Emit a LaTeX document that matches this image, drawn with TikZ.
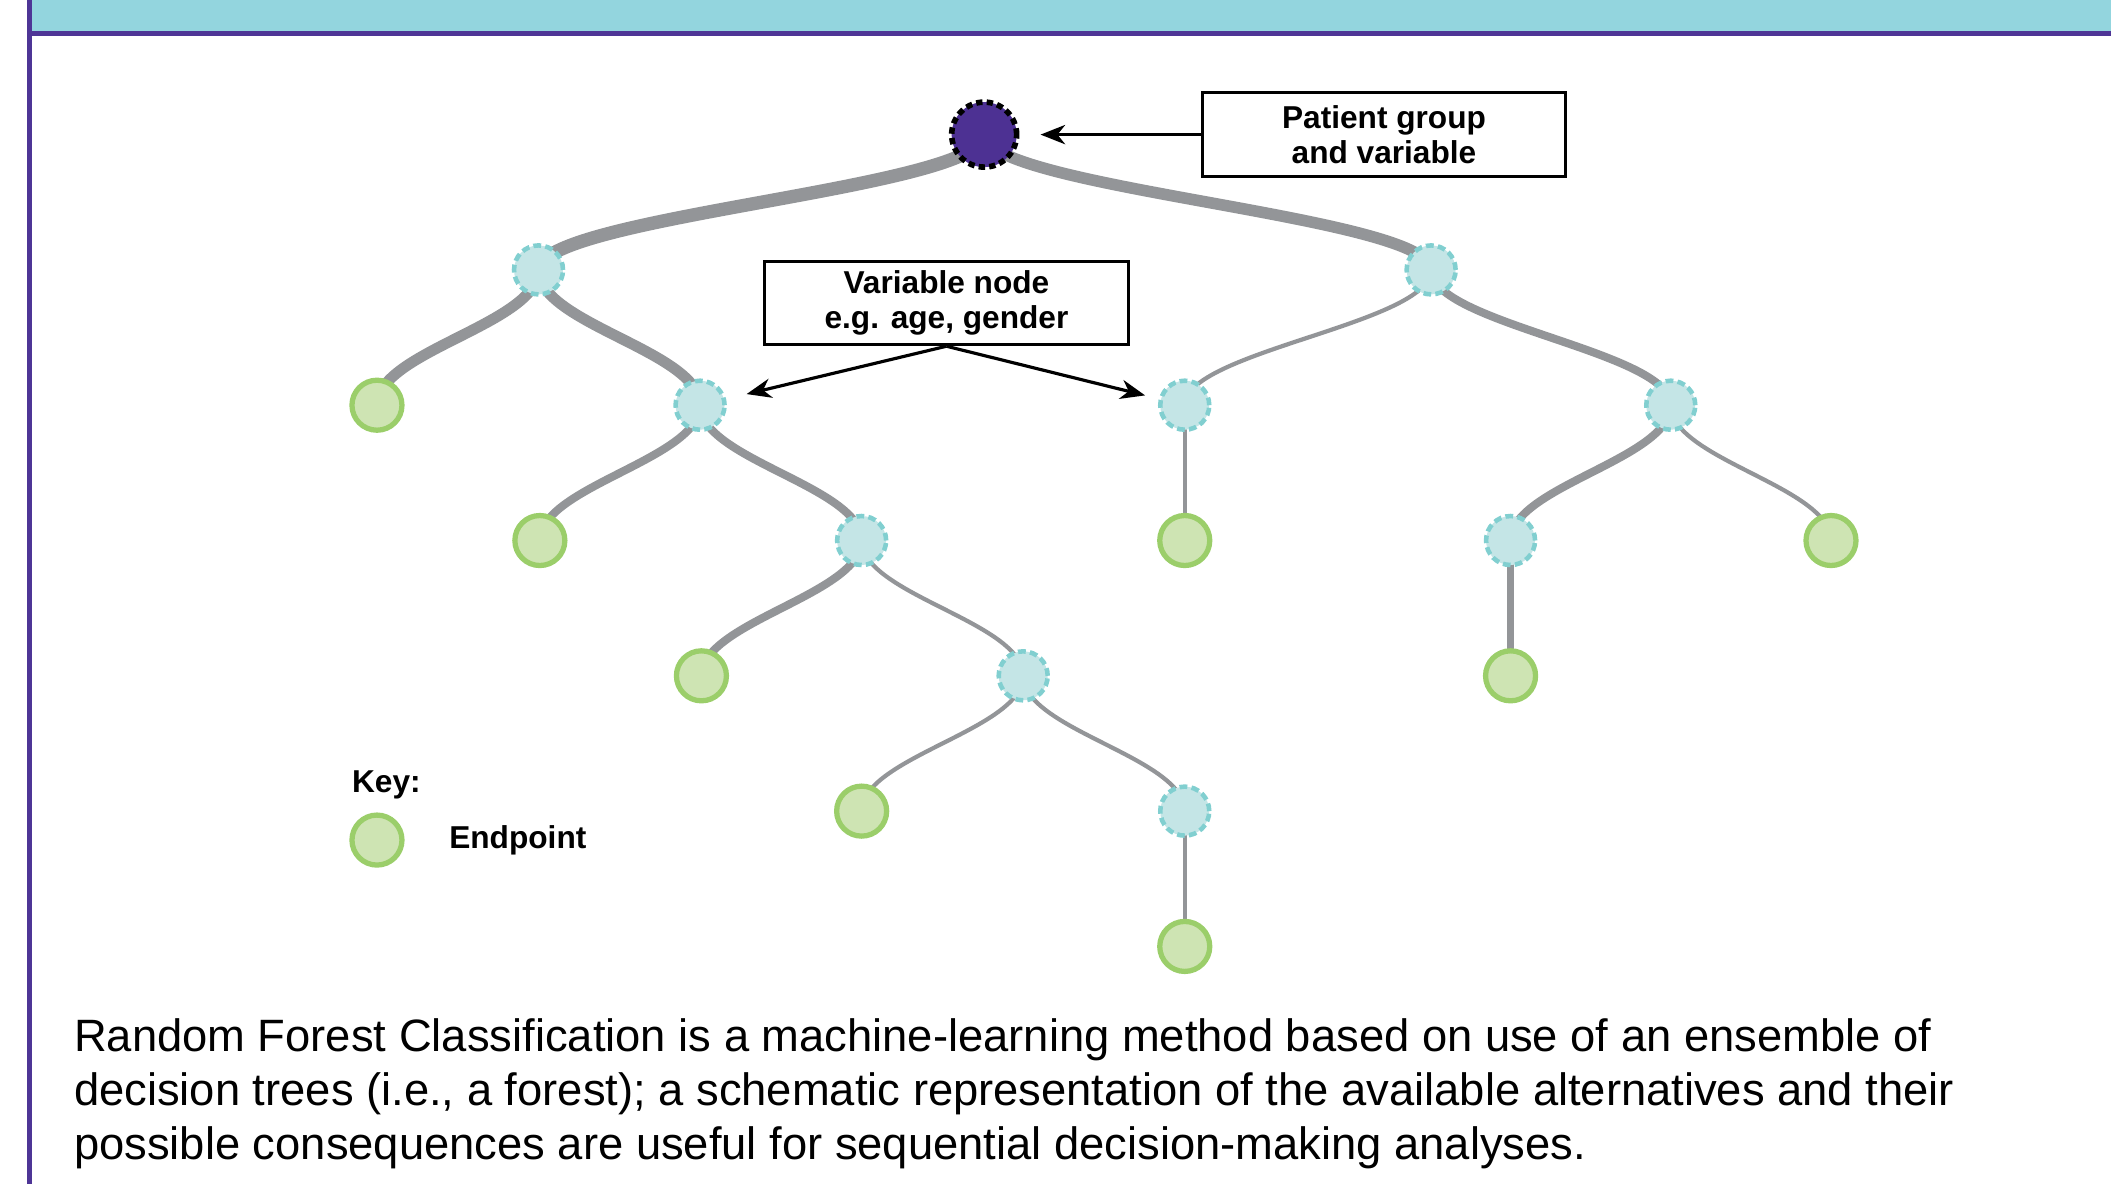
\documentclass[tikz,border=0pt]{standalone}
\usepackage{fontspec}
\setmainfont{Liberation Sans}
\usetikzlibrary{arrows.meta,positioning,backgrounds}

\definecolor{bandcyan}{HTML}{93D5DE}
\definecolor{framepurple}{HTML}{4E3596}
\definecolor{rootpurple}{HTML}{4D3193}
\definecolor{branchgray}{HTML}{939598}
\definecolor{varfill}{HTML}{C4E5E6}
\definecolor{varline}{HTML}{81CFD0}
\definecolor{endfill}{HTML}{CEE4B3}
\definecolor{endline}{HTML}{9BCE6A}

\def\rowsep{1.005}
\def\toprow{7.794}

\begin{document}
\begin{tikzpicture}[x=1.3463cm, y=1.3463cm]
  \tikzstyle{tree node}=[circle, inner sep=0pt]
  \tikzstyle{root node}=[tree node, minimum size=0.65cm, fill=rootpurple, draw=black, line width=1.6pt, dash pattern=on 1.8pt off 1.2pt]
  \tikzstyle{var node}=[tree node, minimum size=0.49cm, fill=varfill, draw=varline, line width=1.3pt, dash pattern=on 2.2pt off 1.2pt]
  \tikzstyle{end node}=[tree node, minimum size=0.5cm, fill=endfill, draw=endline, line width=1.5pt]
  \tikzstyle{branch}=[draw=branchgray]
  \tikzstyle{label box}=[draw, line width=0.9pt, inner sep=2pt, minimum width=3.635cm, minimum height=0.835cm, align=center, font=\fontsize{9}{10}\selectfont\bfseries]
  \tikzstyle{annot}=[inner sep=0pt, font=\fontsize{9}{10}\selectfont\bfseries]
  \tikzstyle{pointer}=[-{Stealth[length=7pt,width=5.5pt,inset=2.2pt]}, line width=0.9pt, shorten >=6pt]

  \useasboundingbox (0,0) rectangle (15.68,8.794);

  % Draw the frame
  \fill[bandcyan] (0.219,8.564) rectangle (15.68,8.794);
  \draw[framepurple, line width=1.42pt] (0.219,8.545) -- (15.68,8.545);
  \draw[framepurple, line width=1.42pt] (0.219,0) -- (0.219,8.794);

  % Draw the root node
  \node[root node] (N0) at (7.31,\toprow) {};

  % Draw the variable nodes
  \foreach \name/\x/\row in {1-1/4.00/1, 1-2/10.63/1, 2-2/5.20/2, 2-3/8.80/2, 2-4/12.41/2,
    3-2/6.40/3, 3-4/11.22/3, 4-2/7.60/4, 5-2/8.80/5}
  \node[var node] (N\name) at (\x,{\toprow-\row*\rowsep}) {};

  % Draw the endpoint nodes
  \foreach \name/\x/\row in {2-1/2.80/2, 3-1/4.01/3, 3-3/8.80/3, 3-5/13.60/3,
    4-1/5.21/4, 4-3/11.22/4, 5-1/6.40/5, 6-1/8.80/6}
  \node[end node] (N\name) at (\x,{\toprow-\row*\rowsep}) {};

  % Connect nodes
  \begin{scope}[on background layer]
  \foreach \source/\dest/\w in {0/1-1/3.8, 0/1-2/3.3, 1-1/2-1/3.1, 1-1/2-2/3.1,
    2-2/3-1/2.3, 2-2/3-2/2.3, 3-2/4-1/2.3, 3-2/4-2/1.2, 4-2/5-1/1.2, 4-2/5-2/1.2,
    5-2/6-1/1.2, 1-2/2-3/1.2, 1-2/2-4/2.3, 2-3/3-3/1.2, 2-4/3-4/2.3, 2-4/3-5/1.2,
    3-4/4-3/1.9}
  \draw[branch, line width=\w pt] (N\source.center) .. controls +(0,-0.4) and +(0,0.4) .. (N\dest.center);
  \end{scope}

  % Annotations
  \node[label box] (pg) at (10.28,\toprow) {Patient group\\and variable};
  \node[label box] (vn) at (7.03,6.544) {Variable node\\e.g. age, gender};
  \draw[pointer] (pg.west) -- (N0);
  \draw[pointer] (vn.south) -- (N2-2);
  \draw[pointer, shorten >=4pt] (vn.south) -- (N2-3);

  % Key
  \node[end node] (key) at (2.80,2.554) {};
  \node[annot, anchor=base west] (keyl) at (2.61,2.904) {Key:};
  \node[annot, right=0.44cm of key] (keyt) {Endpoint};

  % Caption
  \node[anchor=north west, inner sep=0pt, align=left, font=\fontsize{12.9}{15.3}\selectfont] (cap) at (0.545,1.232)
  {Random Forest Classification is a machine-learning method based on use of an ensemble of\\
   decision trees (i.e., a forest); a schematic representation of the available alternatives and their\\
   possible consequences are useful for sequential decision-making analyses.};
\end{tikzpicture}
\end{document}
